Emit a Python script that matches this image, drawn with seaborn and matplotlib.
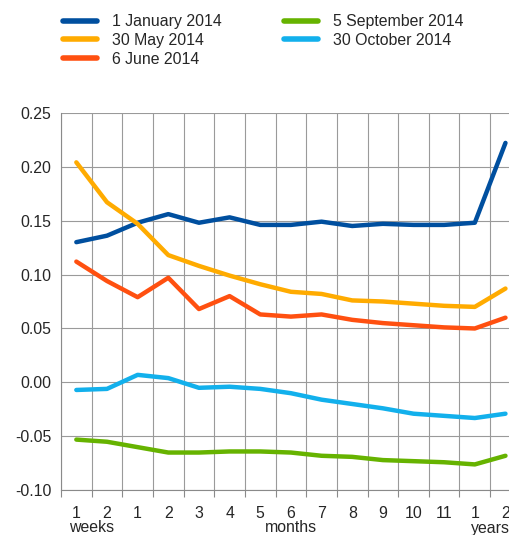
import matplotlib
matplotlib.use("Agg")
import matplotlib.pyplot as plt
import seaborn as sns
import pandas as pd
import numpy as np
from matplotlib.ticker import FixedLocator
import matplotlib.transforms as mtrans

sns.set_style("white")
plt.rcParams['font.family'] = ['Liberation Sans', 'DejaVu Sans']
plt.rcParams['font.size'] = 11.4

tick_labels = ["1", "2", "1", "2", "3", "4", "5", "6", "7", "8", "9", "10", "11", "1", "2"]
groups = ["weeks", "months", "years"]
group_spans = [(0, 1), (2, 12), (13, 14)]

series_names = ["1 January 2014", "30 May 2014", "6 June 2014",
                "5 September 2014", "30 October 2014"]
jan_1 = [0.130, 0.136, 0.148, 0.156, 0.148, 0.153, 0.146, 0.146, 0.149, 0.145,
         0.147, 0.146, 0.146, 0.148, 0.222]
may_30 = [0.204, 0.167, 0.147, 0.118, 0.108, 0.099, 0.091, 0.084, 0.082, 0.076,
          0.075, 0.073, 0.071, 0.070, 0.087]
jun_6 = [0.112, 0.094, 0.079, 0.097, 0.068, 0.080, 0.063, 0.061, 0.063, 0.058,
         0.055, 0.053, 0.051, 0.050, 0.060]
sep_5 = [-0.053, -0.055, -0.060, -0.065, -0.065, -0.064, -0.064, -0.065, -0.068,
         -0.069, -0.072, -0.073, -0.074, -0.076, -0.068]
oct_30 = [-0.007, -0.006, 0.007, 0.004, -0.005, -0.004, -0.006, -0.010, -0.016,
          -0.020, -0.024, -0.029, -0.031, -0.033, -0.029]
colors = ["#004f9f", "#ffab00", "#ff5010", "#66b300", "#12b0ec"]

frames = []
for name, vals in zip(series_names, [jan_1, may_30, jun_6, sep_5, oct_30]):
    frames.append(pd.DataFrame({"pos": np.arange(len(vals)), "value": vals, "series": name}))
df = pd.concat(frames, ignore_index=True)

W, H = 509, 535
fig = plt.figure(figsize=(W / 100, H / 100), dpi=100)
ax = fig.add_axes([61 / W, (H - 490.3) / H, (520.8 - 61) / W, (490.3 - 112.7) / H])

sns.lineplot(data=df, x="pos", y="value", hue="series", hue_order=series_names,
             palette=colors, linewidth=3.2, ax=ax, legend=True)

n = len(tick_labels)
ax.set_xlim(-0.5, n - 0.5)
ax.set_ylim(-0.10, 0.25)
yt = np.arange(-0.10, 0.2501, 0.05)
ax.set_yticks(yt)
ax.set_yticklabels([f"{v:.2f}" for v in yt])
ax.set_xticks(np.arange(n))
ax.set_xticklabels(tick_labels)
ax.xaxis.set_minor_locator(FixedLocator(np.arange(-0.5, n, 1.0)))
ax.tick_params(axis="x", which="major", length=0, pad=11)
ax.tick_params(axis="x", which="minor", length=5, width=0.8, color="#8a8a8a", bottom=True)
ax.tick_params(axis="y", which="major", length=0, pad=7)
ax.grid(False)
ax.grid(True, axis="x", which="minor", color="#9a9a9a", linewidth=0.8)
ax.grid(True, axis="y", which="major", color="#9a9a9a", linewidth=0.8)
ax.set_xlabel("")
ax.set_ylabel("")
for s in ["top", "right"]:
    ax.spines[s].set_visible(False)
for s in ["left", "bottom"]:
    ax.spines[s].set_color("#8a8a8a")
    ax.spines[s].set_linewidth(0.8)

trans = mtrans.blended_transform_factory(ax.transData, fig.transFigure)
for g, (a, b) in zip(groups, group_spans):
    ax.text((a + b) / 2, (H - 528) / H, g, transform=trans, ha="center", va="center")

handles, labels = ax.get_legend_handles_labels()
ax.get_legend().remove()
leg = fig.legend(handles, labels, ncol=2, loc="upper left",
                 bbox_to_anchor=(52 / W, 1 - 3 / H), frameon=False,
                 handlelength=2.15, handletextpad=0.95, columnspacing=3.9,
                 labelspacing=0.24, borderpad=0.2)
for line in leg.get_lines():
    line.set_linewidth(4)

fig.savefig("out.png", dpi=100)
